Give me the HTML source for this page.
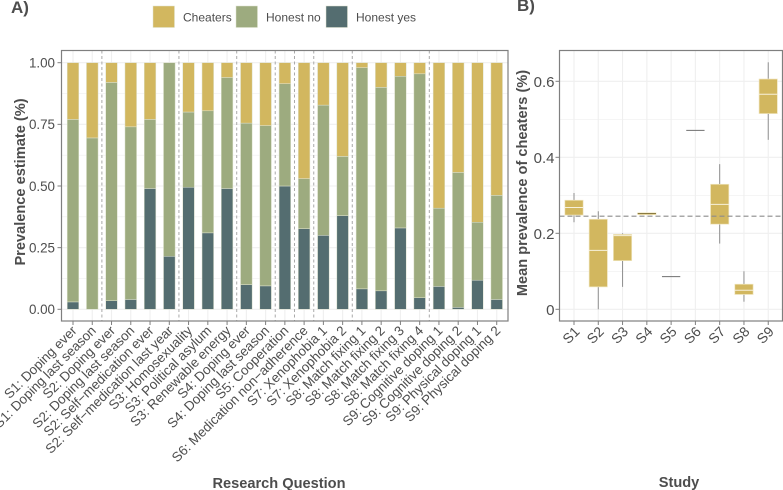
<!DOCTYPE html>
<html>
<head>
<meta charset="utf-8">
<title>Prevalence estimates and cheaters</title>
<style>
html,body{margin:0;padding:0;background:#fff;width:783px;height:490px;overflow:hidden}
svg{display:block;font-family:"Liberation Sans",sans-serif}
</style>
</head>
<body>
<svg id="chart" xmlns="http://www.w3.org/2000/svg" width="783" height="490" viewBox="0 0 783 490"></svg>
<script>
const categories = ["S1: Doping ever","S1: Doping last season","S2: Doping ever","S2: Doping last season","S2: Self−medication ever","S2: Self−medication last year","S3: Homosexuality","S3: Political asylum","S3: Renewable energy","S4: Doping ever","S4: Doping last season","S5: Cooperation","S6: Medication non−adherence","S7: Xenophobia 1","S7: Xenophobia 2","S8: Match fixing 1","S8: Match fixing 2","S8: Match fixing 3","S8: Match fixing 4","S9: Cognitive doping 1","S9: Cognitive doping 2","S9: Physical doping 1","S9: Physical doping 2"];
const honestYes = [0.03,0,0.035,0.04,0.49,0.215,0.495,0.31,0.49,0.10,0.095,0.50,0.327,0.30,0.38,0.083,0.075,0.33,0.047,0.093,0.008,0.118,0.04];
const honestNo = [0.74,0.695,0.885,0.70,0.28,0.785,0.305,0.495,0.45,0.655,0.65,0.415,0.203,0.528,0.24,0.897,0.825,0.615,0.908,0.317,0.547,0.235,0.422];
const cheaters = [0.23,0.305,0.08,0.26,0.23,0,0.20,0.195,0.06,0.245,0.255,0.085,0.47,0.172,0.38,0.02,0.10,0.055,0.045,0.59,0.445,0.647,0.538];
const prevalenceTicks = [0,0.25,0.5,0.75,1];
const prevalenceTickLabels = ["0.00","0.25","0.50","0.75","1.00"];
const prevalenceMinorTicks = [0.125,0.375,0.625,0.875];
const seriesNames = ["Cheaters","Honest no","Honest yes"];

const studies = ["S1","S2","S3","S4","S5","S6","S7","S8","S9"];
const whiskerLow = [0.229,0,0.059,0.249,0.086,0.471,0.173,0.02,0.446];
const quartile1 = [0.248,0.059,0.128,0.249,0.086,0.471,0.224,0.039,0.515];
const medians = [0.268,0.155,0.194,0.252,0.086,0.471,0.276,0.05,0.566];
const quartile3 = [0.287,0.237,0.197,0.254,0.086,0.471,0.329,0.066,0.606];
const whiskerHigh = [0.306,0.258,0.2,0.254,0.086,0.471,0.382,0.1,0.65];
const referenceLevel = [0.245];
const meanTicks = [0,0.2,0.4,0.6];
const meanTickLabels = ["0","0.2","0.4","0.6"];
const meanMinorTicks = [0.1,0.3,0.5];

const GOLD = "#d2b75f", GREEN = "#9dab7f", TEAL = "#546d70", TXT = "#4d4d4d", GRID = "#efefef", EDGE = "#7f7f7f";
const svg = document.getElementById("chart");
const NS = "http://www.w3.org/2000/svg";
function mk(tag, attrs, parent) {
  const e = document.createElementNS(NS, tag);
  for (const k in attrs) e.setAttribute(k, attrs[k]);
  (parent || svg).appendChild(e);
  return e;
}
function label(attrs, str, parent) {
  const e = mk("text", attrs, parent);
  e.textContent = str;
  return e;
}

/* panel geometry */
const A = {l:61.5, r:508, t:50.5, b:321};
const B = {l:559.5, r:782.5, t:50.5, b:321};
const xA = i => 73 + i * 19.26;
const yA = v => 309.3 - v * 246.6;
const xB = i => 574 + i * 24.28;
const yB = v => 309.3 - v * 380;

/* ---------- Panel A ---------- */
const panelA = mk("g", {});



prevalenceMinorTicks.forEach(v => {
  const g = mk("line", {x1:A.l, x2:A.r, y1:yA(v), y2:yA(v), stroke:GRID, "stroke-width":0.6}, panelA);
  
  
});
prevalenceTicks.forEach(v => {
  const g = mk("line", {x1:A.l, x2:A.r, y1:yA(v), y2:yA(v), stroke:GRID, "stroke-width":1.1}, panelA);
  
  
});
categories.forEach((c, i) => {
  const g = mk("line", {x1:xA(i), x2:xA(i), y1:A.t, y2:A.b, stroke:GRID, "stroke-width":1.1}, panelA);
  
  
});

categories.forEach((c, i) => {
  const w = 11.6;
  const y0 = honestYes[i], y1 = y0 + honestNo[i], y2 = y1 + cheaters[i];
  const segs = [[0, y0, TEAL, "bar-honest-yes"], [y0, y1, GREEN, "bar-honest-no"], [y1, y2, GOLD, "bar-cheaters"]];
  segs.forEach(s => {
    if (s[1] - s[0] <= 0) return;
    const r = mk("rect", {x:xA(i) - w/2, y:yA(s[1]), width:w, height:yA(s[0]) - yA(s[1]), fill:s[2], stroke:"#dfe3cf", "stroke-width":0.5}, panelA);
    
    
  });
  const t = mk("line", {x1:xA(i), x2:xA(i), y1:A.b, y2:A.b + 4, stroke:EDGE, "stroke-width":1}, panelA);
  
  
  const px = xA(i) + 4.5, py = A.b + 10.5;
  const tl = label({x:px, y:py, transform:`rotate(-45 ${px} ${py})`, "text-anchor":"end", "font-size":13.4, fill:TXT}, c, panelA);
  
  
});

/* dashed separators wherever the study prefix changes */
categories.forEach((c, i) => {
  if (i === 0 || c.split(":")[0] === categories[i-1].split(":")[0]) return;
  const x = (xA(i) + xA(i-1)) / 2;
  const d = mk("line", {x1:x, x2:x, y1:A.t, y2:A.b, stroke:"#a9a9a9", "stroke-width":1, "stroke-dasharray":"3 2.5"}, panelA);
  
  
});

const frameA = mk("rect", {x:A.l, y:A.t, width:A.r - A.l, height:A.b - A.t, fill:"none", stroke:EDGE, "stroke-width":1.2}, panelA);



prevalenceTicks.forEach((v, i) => {
  const t = mk("line", {x1:A.l - 4, x2:A.l, y1:yA(v), y2:yA(v), stroke:EDGE, "stroke-width":1}, panelA);
  
  
  const tl = label({x:A.l - 6.5, y:yA(v) + 4.8, "text-anchor":"end", "font-size":13.4, fill:TXT}, prevalenceTickLabels[i], panelA);
  
  
});

const yTitleA = label({x:0, y:0, transform:"translate(25 182) rotate(-90)", "text-anchor":"middle", "font-size":14.6, "font-weight":"bold", fill:TXT}, "Prevalence estimate (%)", panelA);


const xTitleA = label({x:279, y:488, "text-anchor":"middle", "font-size":14.6, "font-weight":"bold", fill:TXT}, "Research Question", panelA);


const tagA = label({x:11, y:13, "font-size":17, "font-weight":"bold", fill:TXT}, "A)", panelA);



/* legend */
const legend = mk("g", {});


const legendSwatchX = [153, 236, 326];
const legendLabelX = [183, 266, 356];
const legendColors = [GOLD, GREEN, TEAL];
seriesNames.forEach((n, i) => {
  const s = mk("rect", {x:legendSwatchX[i], y:6, width:21.5, height:21.5, fill:legendColors[i], stroke:"#dfe3cf", "stroke-width":0.5}, legend);
  
  
  const t = label({x:legendLabelX[i], y:21.5, "font-size":12, fill:TXT}, n, legend);
  
  
});

/* ---------- Panel B ---------- */
const panelB = mk("g", {});



meanMinorTicks.forEach(v => {
  const g = mk("line", {x1:B.l, x2:B.r, y1:yB(v), y2:yB(v), stroke:GRID, "stroke-width":0.6}, panelB);
  
  
});
meanTicks.forEach(v => {
  const g = mk("line", {x1:B.l, x2:B.r, y1:yB(v), y2:yB(v), stroke:GRID, "stroke-width":1.1}, panelB);
  
  
});
studies.forEach((s, i) => {
  const g = mk("line", {x1:xB(i), x2:xB(i), y1:B.t, y2:B.b, stroke:GRID, "stroke-width":1.1}, panelB);
  
  
});

studies.forEach((s, i) => {
  const w = 18.3, x = xB(i);
  const whisk = mk("line", {x1:x, x2:x, y1:yB(whiskerHigh[i]), y2:yB(whiskerLow[i]), stroke:"#8f8f8f", "stroke-width":1}, panelB);
  
  
  const box = mk("rect", {x:x - w/2, y:yB(quartile3[i]), width:w, height:yB(quartile1[i]) - yB(quartile3[i]), fill:GOLD, stroke:"#f0e6c0", "stroke-width":0.7}, panelB);
  
  
  const flat = quartile3[i] - quartile1[i] < 0.002;
  const narrow = quartile3[i] - quartile1[i] < 0.01;
  const med = mk("line", {x1:x - w/2, x2:x + w/2, y1:yB(medians[i]), y2:yB(medians[i]), stroke:flat ? "#6f6f6f" : (narrow ? "#8a7a40" : "#f7f1dc"), "stroke-width":1}, panelB);
  
  
  const t = mk("line", {x1:x, x2:x, y1:B.b, y2:B.b + 4, stroke:EDGE, "stroke-width":1}, panelB);
  
  
  const px = x + 6.5, py = B.b + 11.5;
  const tl = label({x:px, y:py, transform:`rotate(-45 ${px} ${py})`, "text-anchor":"end", "font-size":14, fill:TXT}, s, panelB);
  
  
});

const ref = mk("line", {x1:B.l, x2:B.r, y1:yB(referenceLevel[0]), y2:yB(referenceLevel[0]), stroke:"#8c8c8c", "stroke-width":1.1, "stroke-dasharray":"5 3"}, panelB);



const frameB = mk("rect", {x:B.l, y:B.t, width:B.r - B.l, height:B.b - B.t, fill:"none", stroke:EDGE, "stroke-width":1.2}, panelB);



meanTicks.forEach((v, i) => {
  const t = mk("line", {x1:B.l - 4, x2:B.l, y1:yB(v), y2:yB(v), stroke:EDGE, "stroke-width":1}, panelB);
  
  
  const tl = label({x:B.l - 5, y:yB(v) + 5.5, "text-anchor":"end", "font-size":15, fill:TXT}, meanTickLabels[i], panelB);
  
  
});

const yTitleB = label({x:0, y:0, transform:"translate(527 183) rotate(-90)", "text-anchor":"middle", "font-size":14.6, "font-weight":"bold", fill:TXT}, "Mean prevalence of cheaters (%)", panelB);


const xTitleB = label({x:679, y:487, "text-anchor":"middle", "font-size":14.6, "font-weight":"bold", fill:TXT}, "Study", panelB);


const tagB = label({x:517, y:11, "font-size":17, "font-weight":"bold", fill:TXT}, "B)", panelB);


</script>
</body>
</html>
